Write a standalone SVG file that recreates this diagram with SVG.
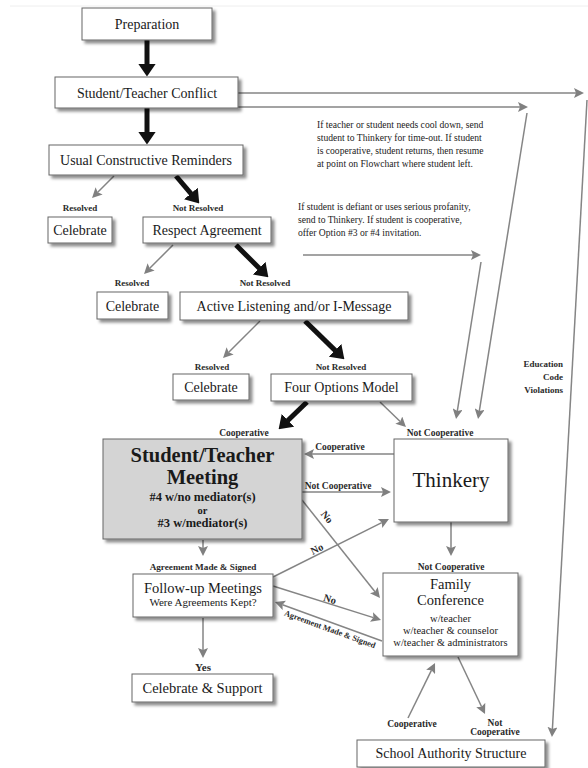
<svg xmlns="http://www.w3.org/2000/svg" width="588" height="768" viewBox="0 0 588 768">
<defs>
<filter id="sh" x="-10%" y="-10%" width="130%" height="140%">
<feDropShadow dx="3" dy="3" stdDeviation="1.4" flood-color="#000" flood-opacity="0.45"/>
</filter>
<marker id="thick" markerUnits="userSpaceOnUse" viewBox="0 0 13 18" markerWidth="13" markerHeight="18" refX="0.5" refY="9" orient="auto">
<path d="M0,0 L13,9 L0,18 z" fill="#111"/>
</marker>
<marker id="thin" markerUnits="userSpaceOnUse" viewBox="0 0 10 10" markerWidth="10" markerHeight="10" refX="2" refY="5" orient="auto">
<path d="M0,0 L10,5 L0,10 L2,5 z" fill="#808080"/>
</marker>
</defs>
<style>
.box{fill:#fff;stroke:#666;stroke-width:1;filter:url(#sh)}
.grey{fill:#d4d4d4}
.t{fill:#1a1a1a;text-anchor:middle}
.b14{font-size:14px}
.lbl{font-size:9px;font-weight:bold;fill:#2a2a2a;text-anchor:middle}
.note{font-size:9.6px;fill:#222}
.tk{stroke:#111;stroke-width:5;fill:none;marker-end:url(#thick)}
.tn{stroke:#858585;stroke-width:1.5;fill:none;marker-end:url(#thin)}
</style>
<rect width="588" height="768" fill="#fff"/>
<line x1="10" y1="6" x2="588" y2="6" stroke="#eeeeee" stroke-width="1"/>
<g font-family="'Liberation Serif', 'Times New Roman', 'DejaVu Serif', serif">
<g id="connectors">
<line class="tk" x1="147" y1="40" x2="147" y2="64"/>
<line class="tk" x1="147" y1="108" x2="147" y2="132"/>
<line class="tk" x1="176" y1="176" x2="191.2" y2="193.9"/>
<line class="tk" x1="236" y1="245" x2="259.5" y2="268.5"/>
<line class="tk" x1="305" y1="321" x2="335.4" y2="350.6"/>
<line class="tk" x1="307" y1="402" x2="287.6" y2="420.7"/>

<line class="tn" x1="114" y1="176" x2="97.7" y2="192.3"/>
<line class="tn" x1="173" y1="245" x2="149.7" y2="268.3"/>
<line class="tn" x1="260" y1="321" x2="228.7" y2="352.3"/>
<line class="tn" x1="380" y1="402" x2="400.2" y2="421.5"/>
<line class="tn" x1="394" y1="454" x2="312" y2="454"/>
<line class="tn" x1="302" y1="492" x2="383" y2="492"/>
<line class="tn" x1="302" y1="500" x2="375" y2="591.7"/>
<line class="tn" x1="273" y1="577" x2="381.8" y2="522.6"/>
<line class="tn" x1="273" y1="586" x2="373.4" y2="617.6"/>
<line class="tn" x1="382" y1="641" x2="282.5" y2="604.7"/>
<line class="tn" x1="203" y1="540" x2="203" y2="548"/>
<line class="tn" x1="203" y1="618" x2="203" y2="650"/>
<line class="tn" x1="451" y1="522" x2="451" y2="548"/>
<line class="tn" x1="408" y1="718" x2="431.5" y2="670.2"/>
<line class="tn" x1="458" y1="657" x2="481.6" y2="706.8"/>
<line class="tn" x1="238" y1="93" x2="576" y2="93"/>
<line class="tn" x1="238" y1="107" x2="520" y2="107"/>
<line class="tn" x1="527" y1="113" x2="479.3" y2="411.1"/>
<line class="tn" x1="303" y1="255" x2="473" y2="255"/>
<line class="tn" x1="481" y1="262" x2="457.3" y2="411.1"/>
<line class="tn" x1="587" y1="100" x2="552.4" y2="729"/>

<text class="lbl" x="80" y="211">Resolved</text>
<text class="lbl" x="198" y="211">Not Resolved</text>
<text class="lbl" x="132" y="286">Resolved</text>
<text class="lbl" x="265" y="286">Not Resolved</text>
<text class="lbl" x="212" y="370">Resolved</text>
<text class="lbl" x="341" y="370">Not Resolved</text>
<text class="lbl" x="244" y="436" style="font-size:9.5px">Cooperative</text>
<text class="lbl" x="440" y="436" style="font-size:9.5px">Not Cooperative</text>
<text class="lbl" x="340" y="450" style="font-size:9.5px">Cooperative</text>
<text class="lbl" x="338" y="489" style="font-size:9.5px">Not Cooperative</text>
<text class="lbl" x="203" y="570" style="font-size:9.2px">Agreement Made &amp; Signed</text>
<text class="lbl" x="203" y="671" style="font-size:11px">Yes</text>
<text class="lbl" x="451" y="570" style="font-size:9.5px">Not Cooperative</text>
<text class="lbl" x="412" y="727" style="font-size:9.5px">Cooperative</text>
<text class="lbl" x="495" y="726" style="font-size:9.5px">Not</text>
<text class="lbl" x="495" y="735" style="font-size:9.5px">Cooperative</text>
<text class="lbl" style="font-size:10.5px" transform="translate(327,517) rotate(51.5)" y="3.5">No</text>
<text class="lbl" style="font-size:10.5px" transform="translate(317,549) rotate(-26.6)" y="3.5">No</text>
<text class="lbl" style="font-size:10.5px" transform="translate(330,599) rotate(17.5)" y="3.5">No</text>
<text class="lbl" style="font-size:8.3px" transform="translate(330,629) rotate(20)" y="3">Agreement Made &amp; Signed</text>
<text class="lbl" x="563" y="367" style="text-anchor:end">Education</text>
<text class="lbl" x="563" y="380" style="text-anchor:end">Code</text>
<text class="lbl" x="563" y="393" style="text-anchor:end">Violations</text>

<text class="note" x="317" y="128">If teacher or student needs cool down, send</text>
<text class="note" x="317" y="141">student to Thinkery for time-out. If student</text>
<text class="note" x="317" y="154">is cooperative, student returns, then resume</text>
<text class="note" x="317" y="167">at point on Flowchart where student left.</text>
<text class="note" x="298" y="210">If student is defiant or uses serious profanity,</text>
<text class="note" x="298" y="223">send to Thinkery.  If student is cooperative,</text>
<text class="note" x="298" y="236">offer Option #3 or #4 invitation.</text>
</g>

<g id="preparation"><rect class="box" x="82" y="8" width="130" height="32"/><text class="t b14" x="147" y="29">Preparation</text></g>
<g id="conflict"><rect class="box" x="55" y="77" width="183" height="31"/><text class="t b14" x="147" y="97.5">Student/Teacher Conflict</text></g>
<g id="reminders"><rect class="box" x="49" y="145" width="194" height="30"/><text class="t b14" x="146" y="165">Usual Constructive Reminders</text></g>
<g id="celebrate1"><rect class="box" x="48" y="217" width="64" height="26"/><text class="t b14" x="80" y="235">Celebrate</text></g>
<g id="respect"><rect class="box" x="143" y="217" width="128" height="26"/><text class="t b14" x="207" y="235">Respect Agreement</text></g>
<g id="celebrate2"><rect class="box" x="97" y="292" width="71" height="27"/><text class="t b14" x="132.5" y="310.5">Celebrate</text></g>
<g id="active"><rect class="box" x="180" y="292" width="228" height="28"/><text class="t b14" x="294" y="311">Active Listening and/or I-Message</text></g>
<g id="celebrate3"><rect class="box" x="173" y="374" width="76" height="26"/><text class="t b14" x="211" y="392">Celebrate</text></g>
<g id="fouroptions"><rect class="box" x="271" y="374" width="141" height="27"/><text class="t b14" x="341.5" y="392">Four Options Model</text></g>
<g id="meeting"><rect class="box grey" x="103" y="439" width="199" height="100"/>
<text class="t" x="202.5" y="461.5" style="font-size:20.5px;font-weight:bold">Student/Teacher</text>
<text class="t" x="202.5" y="484" style="font-size:20.5px;font-weight:bold">Meeting</text>
<text class="t" x="202.5" y="501" style="font-size:12.5px;font-weight:bold">#4 w/no mediator(s)</text>
<text class="t" x="202.5" y="513.5" style="font-size:10.5px;font-weight:bold">or</text>
<text class="t" x="202.5" y="527" style="font-size:12.5px;font-weight:bold">#3 w/mediator(s)</text></g>
<g id="thinkery"><rect class="box" x="394" y="439" width="114" height="83"/><text class="t" x="451" y="487" style="font-size:21px">Thinkery</text></g>
<g id="followup"><rect class="box" x="133" y="574" width="140" height="43"/>
<text class="t" x="203" y="593" style="font-size:14.5px">Follow-up Meetings</text>
<text class="t" x="203" y="606" style="font-size:11px">Were Agreements Kept?</text></g>
<g id="celebratesupport"><rect class="box" x="132" y="674" width="141" height="28"/><text class="t" x="202.5" y="693" style="font-size:14.5px">Celebrate &amp; Support</text></g>
<g id="family"><rect class="box" x="383" y="573" width="135" height="83"/>
<text class="t" x="450.5" y="589" style="font-size:14.5px">Family</text>
<text class="t" x="450.5" y="605" style="font-size:14.5px">Conference</text>
<text class="t" x="450.5" y="622" style="font-size:10.5px">w/teacher</text>
<text class="t" x="450.5" y="634" style="font-size:10.5px">w/teacher &amp; counselor</text>
<text class="t" x="450.5" y="646" style="font-size:10.5px">w/teacher &amp; administrators</text></g>
<g id="school"><rect class="box" x="357" y="740" width="188" height="27"/><text class="t b14" x="451" y="758">School Authority Structure</text></g>
</g>
</svg>
